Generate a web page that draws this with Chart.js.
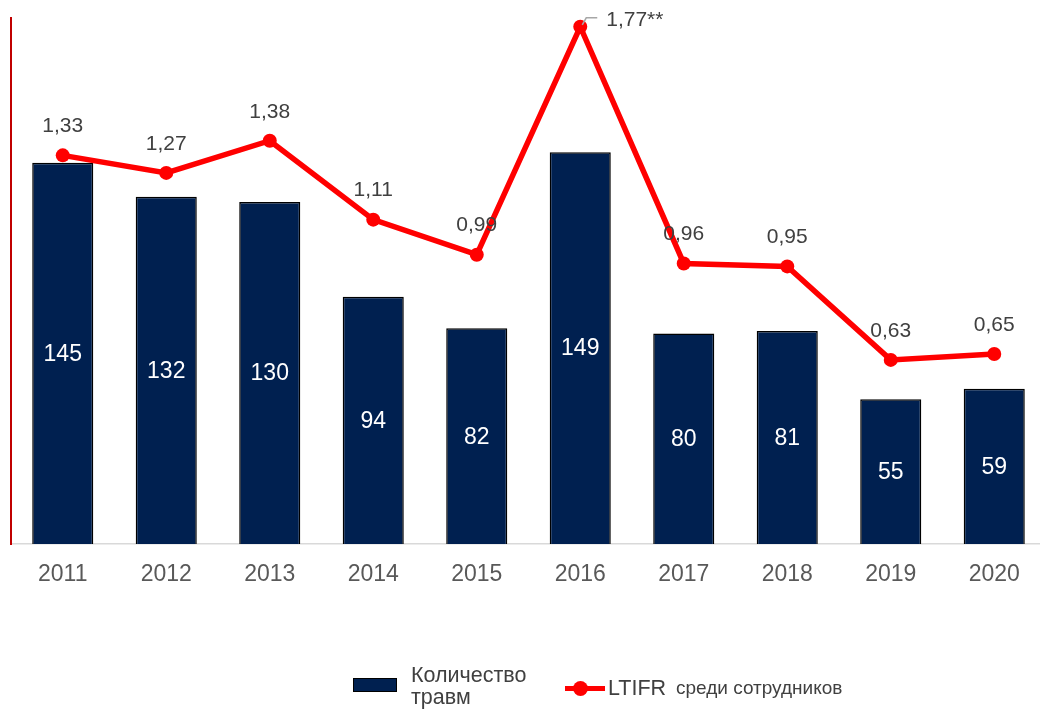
<!DOCTYPE html>
<html>
<head>
<meta charset="utf-8">
<script src="https://cdn.jsdelivr.net/npm/chart.js@4.4.1/dist/chart.umd.min.js"></script>
<style>
  html, body { margin: 0; padding: 0; background: #fff; overflow: hidden; }
  #clip { position: relative; width: 1040px; height: 711px; overflow: hidden; }
  #chart { position: absolute; left: 0; top: 0; }
  .leg { position: absolute; font-family: "Liberation Sans", Arial, sans-serif; color: #404040; white-space: nowrap; }
</style>
</head>
<body>
<div id="clip">
<canvas id="chart" width="1054" height="711"></canvas>

<!-- legend -->
<div class="leg" style="left:353px;top:678px;width:42px;height:12px;background:#002050;border:1.5px solid #000;"></div>
<div class="leg" style="left:411px;top:664px;font-size:21.5px;line-height:22px;">Количество<br>травм</div>
<div class="leg" style="left:565px;top:686px;width:40px;height:5px;background:#ff0000;"></div>
<div class="leg" style="left:573px;top:681px;width:15px;height:15px;border-radius:50%;background:#ff0000;"></div>
<div class="leg" style="left:608px;top:675px;font-size:21.5px;line-height:26px;">LTIFR</div>
<div class="leg" style="left:676px;top:677px;font-size:19px;line-height:22px;">среди сотрудников</div>
</div>

<script>
const years = ['2011', '2012', '2013', '2014', '2015', '2016', '2017', '2018', '2019', '2020'];
const injuries = [145, 132, 130, 94, 82, 149, 80, 81, 55, 59];
const ltifr = [1.33, 1.27, 1.38, 1.11, 0.99, 1.77, 0.96, 0.95, 0.63, 0.65];
const ltifrNotes = ['', '', '', '', '', '**', '', '', '', ''];

const FONT = '"Liberation Sans", Arial, sans-serif';

// value labels: inside bars and above the line points
const valueLabels = {
  id: 'valueLabels',
  afterDatasetsDraw(chart) {
    const ctx = chart.ctx;
    ctx.save();
    ctx.textAlign = 'center';
    ctx.textBaseline = 'middle';

    ctx.font = '23px ' + FONT;
    ctx.fillStyle = '#ffffff';
    chart.getDatasetMeta(0).data.forEach((bar, i) => {
      ctx.fillText(String(injuries[i]), bar.x, (bar.y + bar.base) / 2 + 1);
    });

    ctx.font = '21px ' + FONT;
    ctx.fillStyle = '#404040';
    chart.getDatasetMeta(1).data.forEach((pt, i) => {
      const txt = ltifr[i].toFixed(2).replace('.', ',') + ltifrNotes[i];
      if (ltifrNotes[i]) {
        // leader line to the side label
        ctx.strokeStyle = '#a6a6a6';
        ctx.lineWidth = 1.5;
        ctx.beginPath();
        ctx.moveTo(pt.x + 2, pt.y - 2);
        ctx.lineTo(pt.x + 6, pt.y - 9);
        ctx.lineTo(pt.x + 17, pt.y - 9);
        ctx.stroke();
        ctx.textAlign = 'left';
        ctx.fillText(txt, pt.x + 26, pt.y - 7);
        ctx.textAlign = 'center';
      } else {
        ctx.fillText(txt, pt.x, pt.y - 29);
      }
    });
    ctx.restore();
  }
};

new Chart(document.getElementById('chart'), {
  type: 'bar',
  data: {
    labels: years,
    datasets: [
      {
        type: 'bar',
        label: 'Количество травм',
        data: injuries,
        yAxisID: 'y',
        backgroundColor: '#002050',
        borderColor: '#000000',
        borderWidth: 1.5,
        barPercentage: 0.59,
        categoryPercentage: 1,
        order: 1
      },
      {
        type: 'line',
        label: 'LTIFR среди сотрудников',
        data: ltifr,
        yAxisID: 'y2',
        borderColor: '#ff0000',
        backgroundColor: '#ff0000',
        borderWidth: 5.5,
        pointRadius: 7,
        pointBackgroundColor: '#ff0000',
        pointBorderWidth: 0,
        tension: 0,
        order: 0
      }
    ]
  },
  options: {
    responsive: false,
    animation: false,
    layout: { padding: { left: 11, right: 8, top: 18, bottom: 127 } },
    plugins: { legend: { display: false }, tooltip: { enabled: false } },
    scales: {
      x: {
        grid: { display: false, drawTicks: false },
        border: { color: '#d9d9d9', width: 1.5 },
        ticks: { color: '#595959', font: { family: FONT, size: 23 }, padding: 17 },
        afterFit: s => { s.height = 40; }
      },
      y: {
        min: 0, max: 200,
        position: 'left',
        grid: { display: false, drawTicks: false },
        ticks: { display: false },
        border: { color: '#c00000', width: 2 },
        afterFit: s => { s.width = 0; }
      },
      y2: {
        min: 0, max: 1.8,
        position: 'right',
        display: false
      }
    }
  },
  plugins: [valueLabels]
});
</script>
</body>
</html>
